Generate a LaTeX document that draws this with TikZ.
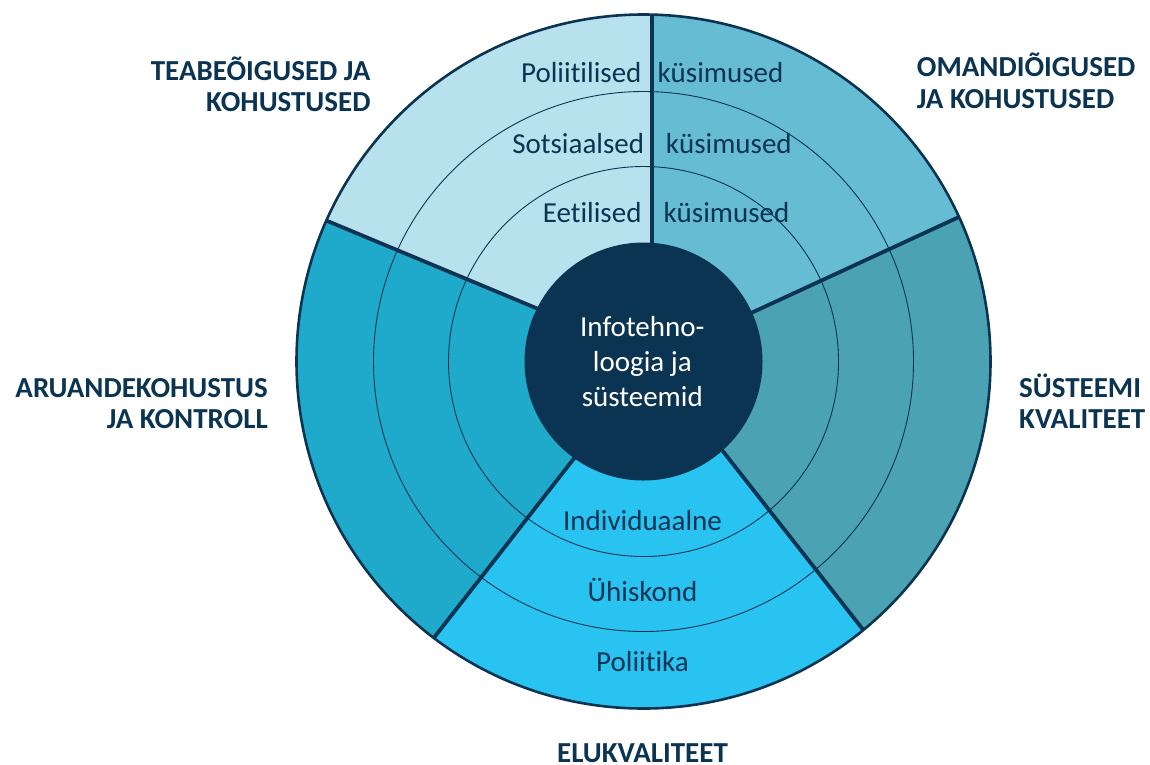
\documentclass[tikz,border=0pt]{standalone}
\usepackage{fontspec}
\setmainfont{Carlito}[Ligatures=NoCommon]
\usetikzlibrary{calc}
\definecolor{navy}{HTML}{0B3452}
\definecolor{segTL}{HTML}{B8E1EE}
\definecolor{segTR}{HTML}{66BCD3}
\definecolor{segR}{HTML}{4BA2B2}
\definecolor{segB}{HTML}{29C3F2}
\definecolor{segL}{HTML}{1FAACB}
\begin{document}
\begin{tikzpicture}[x=1pt,y=-1pt,
  ring/.style={draw=navy,line width=0.9pt},
  divider/.style={draw=navy,line width=3.8pt},
  rim/.style={draw=navy,line width=2.6pt},
  txt/.style={inner sep=0pt,text=navy,font=\fontsize{29}{35}\selectfont},
  head/.style={inner sep=0pt,text=navy,font=\fontsize{29}{35}\selectfont\bfseries},
  core/.style={inner sep=0pt,text=white,font=\fontsize{29}{35}\selectfont}]
\useasboundingbox (0,0) rectangle (1150,764);

% centre of the wheel and the end points of the five dividers
\coordinate (c) at (643.5,361.5);
\coordinate (t-in)  at (652,250);   \coordinate (t-out)  at (652,14);
\coordinate (ur-in) at (751.7,312.7); \coordinate (ur-out) at (958.3,217.3);
\coordinate (lr-in) at (723.3,451.7); \coordinate (lr-out) at (863.3,630);
\coordinate (ll-in) at (573.3,459.3); \coordinate (ll-out) at (434.3,637.3);
\coordinate (ul-in) at (536,308);   \coordinate (ul-out) at (326.7,220.7);

% coloured sectors, rings and dividers, all kept inside the outer disk
\begin{scope}
  \clip (c) circle[radius=347pt];
  \fill[segTR] ($(t-out)!1.2!(t-in)$) -- ($(t-in)!4!(t-out)$) -- ($(ur-in)!4!(ur-out)$) -- ($(ur-out)!1.2!(ur-in)$) -- (c) -- cycle;
  \fill[segR] ($(ur-out)!1.2!(ur-in)$) -- ($(ur-in)!4!(ur-out)$) -- ($(lr-in)!4!(lr-out)$) -- ($(lr-out)!1.2!(lr-in)$) -- (c) -- cycle;
  \fill[segB] ($(lr-out)!1.2!(lr-in)$) -- ($(lr-in)!4!(lr-out)$) -- ($(ll-in)!4!(ll-out)$) -- ($(ll-out)!1.2!(ll-in)$) -- (c) -- cycle;
  \fill[segL] ($(ll-out)!1.2!(ll-in)$) -- ($(ll-in)!4!(ll-out)$) -- ($(ul-in)!4!(ul-out)$) -- ($(ul-out)!1.2!(ul-in)$) -- (c) -- cycle;
  \fill[segTL] ($(ul-out)!1.2!(ul-in)$) -- ($(ul-in)!4!(ul-out)$) -- ($(t-in)!4!(t-out)$) -- ($(t-out)!1.2!(t-in)$) -- (c) -- cycle;
  \draw[ring] (c) circle[radius=195pt];
  \draw[ring] (c) circle[radius=270pt];
  \foreach \s in {t,ur,lr,ll,ul}
    \draw[divider] ($(\s-out)!1.2!(\s-in)$) -- ($(\s-in)!1.1!(\s-out)$);
\end{scope}
\draw[rim] (c) circle[radius=347pt];
\fill[navy] (c) circle[radius=119pt];

% centre text
\node[core,anchor=base] (core1) at (642.3,336.7) {Infotehno-};
\node[core,anchor=base] (core2) at (642.3,371.7) {loogia ja};
\node[core,anchor=base] (core3) at (642.3,406.7) {süsteemid};

% ring labels in the upper sectors
\node[txt,anchor=base east] (pol)  at (641.7,82.7)  {Poliitilised};
\node[txt,anchor=base west] (kus1) at (657.3,82.7)  {küsimused};
\node[txt,anchor=base east] (sots) at (644.3,153.7) {Sotsiaalsed};
\node[txt,anchor=base west] (kus2) at (665.7,153.7) {küsimused};
\node[txt,anchor=base east] (eet)  at (641.7,222.7) {Eetilised};
\node[txt,anchor=base west] (kus3) at (663.3,222.7) {küsimused};

% ring labels in the lower sector
\node[txt,anchor=base] (ind) at (642.5,530.7) {Individuaalne};
\node[txt,anchor=base] (uhi) at (642.5,601.7) {Ühiskond};
\node[txt,anchor=base] (pok) at (642.5,671.7) {Poliitika};

% outer headings
\node[head,anchor=base east] (h1a) at (370.7,80)   {TEABEÕIGUSED JA};
\node[head,anchor=base east] (h1b) at (370.7,111.7) {KOHUSTUSED};
\node[head,anchor=base west] (h2a) at (916.7,76.7)  {OMANDIÕIGUSED};
\node[head,anchor=base west] (h2b) at (916.7,108.3) {JA KOHUSTUSED};
\node[head,anchor=base east] (h3a) at (268,397) {ARUANDEKOHUSTUS};
\node[head,anchor=base east] (h3b) at (268,428) {JA KONTROLL};
\node[head,anchor=base west] (h4a) at (1019,397) {SÜSTEEMI};
\node[head,anchor=base west] (h4b) at (1019,428) {KVALITEET};
\node[head,anchor=base] (h5) at (642.5,762) {ELUKVALITEET};
\end{tikzpicture}
\end{document}
